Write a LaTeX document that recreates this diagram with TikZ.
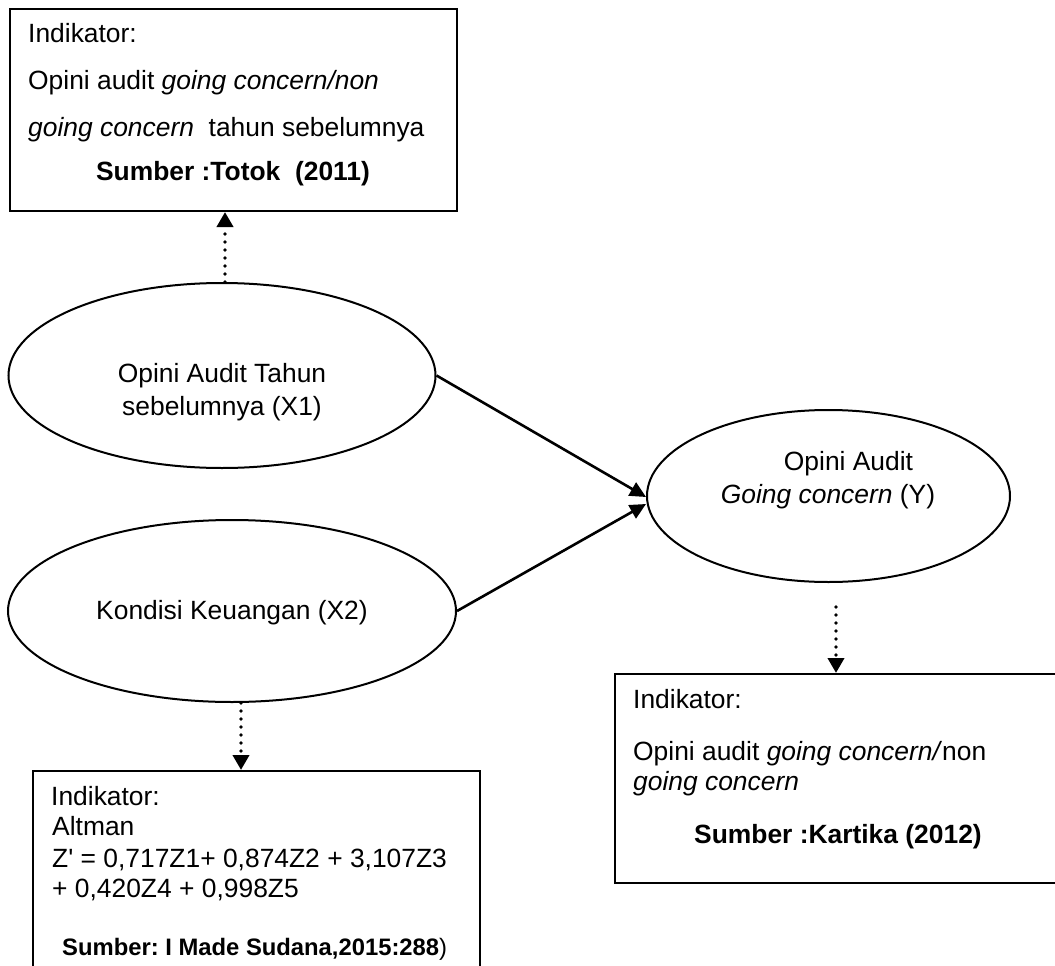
\documentclass[tikz,border=0pt]{standalone}
\usepackage{fontspec}
\setmainfont{Liberation Sans}
\usetikzlibrary{shapes.geometric,arrows.meta,calc}
\begin{document}
\frenchspacing
\begin{tikzpicture}[x=1pt,y=-1pt,
  every node/.style={font=\fontsize{26.4}{31}\selectfont},
  boxnode/.style={draw, line width=2pt, anchor=north west, inner sep=0pt},
  ell/.style={draw, ellipse, line width=2pt, inner sep=0pt},
  txt/.style={anchor=base west, inner sep=0pt},
  ctxt/.style={anchor=base, inner sep=0pt},
  link/.style={line width=2.6pt, -{Triangle[length=16pt,width=15pt]}},
  dotlink/.style={line width=3.8pt, line cap=round, dash pattern=on 0pt off 8pt, -{Triangle[length=15pt,width=16pt]}}
]
\useasboundingbox (0,0) rectangle (1055,966);
\clip (0,0) rectangle (1055,966);

% top box
\node[boxnode, minimum width=447pt, minimum height=202pt] (T) at (9,8) {};
\node[txt] (t1) at (28,43) {Indikator:};
\node[txt] (t2) at (28,89) {Opini audit \textit{going concern/non}};
\node[txt] (t3) at (28,136) {\textit{going concern}~ tahun sebelumnya};
\node[ctxt] (t4) at (233,180) {\textbf{Sumber :Totok~ (2011)}};

% ellipses
\node[ell, minimum width=427pt, minimum height=185pt] (X1) at (222,375.5) {};
\node[ctxt] (x1a) at (222,382) {Opini Audit Tahun};
\node[ctxt] (x1b) at (222,415) {sebelumnya (X1)};

\node[ell, minimum width=448pt, minimum height=182pt] (X2) at (232,611) {};
\node[ctxt] (x2a) at (232,619) {Kondisi Keuangan (X2)};

\node[ell, minimum width=363pt, minimum height=172pt] (Y) at (828.5,496) {};
\node[ctxt] (ya) at (848.5,470) {Opini Audit};
\node[ctxt] (yb) at (828,503) {\textit{Going concern} (Y)};

% right box
\node[boxnode, minimum width=460pt, minimum height=209pt] (R) at (614,673) {};
\node[txt] (r1) at (633,708) {Indikator:};
\node[txt] (r2) at (633,760) {Opini audit \textit{going concern/}non};
\node[txt] (r3) at (633,790) {\textit{going concern}};
\node[ctxt] (r4) at (838,843) {\textbf{Sumber :Kartika (2012)}};

% bottom-left box
\node[boxnode, minimum width=447pt, minimum height=230pt] (B) at (32,770) {};
\node[txt] (b1) at (51,805) {Indikator:};
\node[txt] (b2) at (52,835) {Altman};
\node[txt] (b3) at (52,867) {Z\textquotesingle{} = 0,717Z1+ 0,874Z2 + 3,107Z3};
\node[txt] (b4) at (52,897) {+ 0,420Z4 + 0,998Z5};
\node[txt, font=\fontsize{23.8}{28}\selectfont] (b5) at (62,955) {\textbf{Sumber: I Made Sudana,2015:288})};

% connectors
\draw[link] (X1.east) -- ($(Y.west)+(0,1)$);
\draw[link] (X2.east) -- ($(Y.west)+(0,8)$);

\coordinate (pa) at (225,0);
\coordinate (pb) at (241,0);
\coordinate (pc) at (836,0);
\draw[dotlink] (X1.north -| pa) -- (T.south -| pa);
\draw[dotlink] (X2.south -| pb) -- (B.north -| pb);
\draw[dotlink, shorten <=24pt] (Y.south -| pc) -- (R.north -| pc);
\end{tikzpicture}
\end{document}
